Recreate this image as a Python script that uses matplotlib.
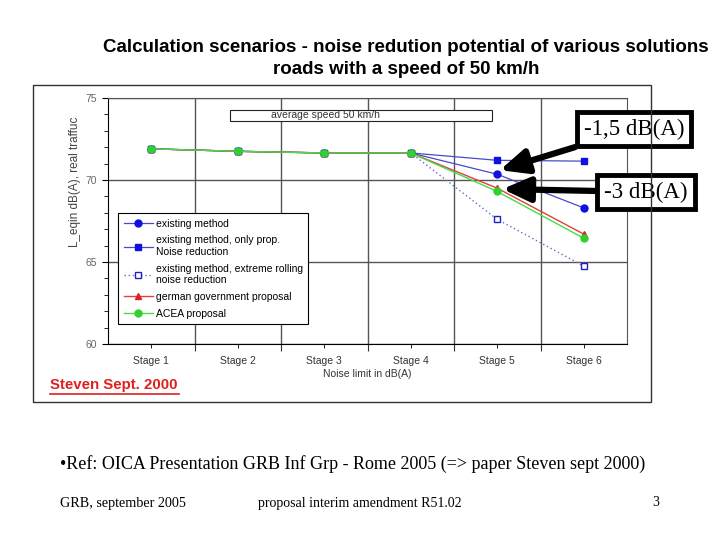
import matplotlib.pyplot as plt
from matplotlib.patches import Rectangle
from matplotlib.lines import Line2D

# data
stages = ['Stage 1', 'Stage 2', 'Stage 3', 'Stage 4', 'Stage 5', 'Stage 6']
existing = [71.9, 71.75, 71.65, 71.65, 70.35, 68.3]
only_prop = [71.9, 71.75, 71.65, 71.65, 71.2, 71.15]
extreme = [71.9, 71.75, 71.65, 71.65, 67.6, 64.75]
german = [71.9, 71.75, 71.65, 71.65, 69.5, 66.7]
acea = [71.9, 71.75, 71.65, 71.65, 69.3, 66.45]

labels = ['existing method',
          'existing method, only prop.\nNoise reduction',
          'existing method, extreme rolling\nnoise reduction',
          'german government proposal',
          'ACEA proposal']

plt.rcParams['font.family'] = ['Liberation Sans', 'DejaVu Sans']

fig = plt.figure(figsize=(7.2, 5.4), dpi=100)
W, H = 720, 540

def fx(px):
    return px / W

def fy(py):
    return 1 - py / H

# slide title
fig.text(fx(406), fy(47), 'Calculation scenarios - noise redution potential of various solutions',
         ha='center', va='center', fontsize=13.5, fontweight='bold')
fig.text(fx(406), fy(69), 'roads with a speed of 50 km/h',
         ha='center', va='center', fontsize=13.5, fontweight='bold')

# frame of the pasted chart
fig.add_artist(Rectangle((fx(33), fy(402)), fx(651) - fx(33), fy(85) - fy(402),
                         transform=fig.transFigure, fill=False, edgecolor='#333333', lw=1))

ax = fig.add_axes([fx(108), fy(344), fx(627) - fx(108), fy(98) - fy(344)])
x = list(range(len(stages)))

l_ext, = ax.plot(x, extreme, color='#6a6ac0', lw=1, ls=(0, (1, 2)), marker='s', ms=5,
                 mfc='white', mec='#2020c0', mew=1, zorder=3)
l_only, = ax.plot(x, only_prop, color='#4a4ac8', lw=0.9, marker='s', ms=5,
                  mfc='#1010e0', mec='#1010e0', zorder=4)
l_exist, = ax.plot(x, existing, color='#4a4ac8', lw=0.9, marker='o', ms=5,
                   mfc='#1010e0', mec='#1010e0', zorder=4)
l_ger, = ax.plot(x, german, color='#e04040', lw=1, marker='^', ms=5,
                 mfc='#e02020', mec='#e02020', zorder=5)
l_acea, = ax.plot(x, acea, color='#44dd44', lw=1, marker='o', ms=5,
                  mfc='#30d030', mec='#30d030', zorder=6)

ax.set_xlim(-0.5, 5.5)
ax.set_ylim(60, 75)
ax.set_xticks([i + 0.5 for i in range(5)])
ax.set_xticklabels([])
ax.set_xticks(x, minor=True)
ax.set_xticklabels(stages, minor=True)
ax.tick_params(axis='x', which='major', direction='out', length=5, color='#333333')
ax.tick_params(axis='x', which='minor', direction='out', length=3, labelsize=7.5,
               labelcolor='#333333', pad=6)
ax.set_yticks([60, 65, 70, 75])
ax.set_yticks(range(60, 76), minor=True)
ax.tick_params(axis='y', which='major', direction='out', length=4, labelsize=7.5,
               labelcolor='#666666', pad=4)
ax.tick_params(axis='y', which='minor', direction='out', length=3)
ax.grid(True, which='major', color='#555555', lw=1)
ax.set_axisbelow(True)
for s in ['top', 'right']:
    ax.spines[s].set_color('#555555')
ax.set_xlabel('Noise limit in dB(A)', fontsize=7.5, color='#333333', labelpad=2)
ax.set_ylabel('L_eqin dB(A), real traffuc', fontsize=8.5, color='#444444')
ax.yaxis.set_label_coords(-0.052, 0.66)

# "average speed" box
ax.add_patch(Rectangle((0.235, 0.907), 0.504, 0.045, transform=ax.transAxes,
                       facecolor='white', edgecolor='#222222', lw=0.8, zorder=7))
ax.text(0.315, 0.93, 'average speed 50 km/h', transform=ax.transAxes, fontsize=7.5,
        color='#333333', va='center', zorder=8)

leg = ax.legend([l_exist, l_only, l_ext, l_ger, l_acea], labels, loc='upper left',
                bbox_to_anchor=(0.01, 0.552), fontsize=7.5, frameon=True,
                fancybox=False, edgecolor='black', framealpha=1, handlelength=2.8,
                labelspacing=0.65, borderpad=0.5, handletextpad=0.3)
leg.get_frame().set_linewidth(0.8)
leg.set_zorder(10)

# callouts
box = dict(boxstyle='square,pad=0.3', facecolor='white', edgecolor='black', lw=3.5)
arrow = dict(arrowstyle='-|>,head_length=1.0,head_width=0.45', lw=4.5, color='black',
             shrinkA=0, shrinkB=0)
ax.annotate('-1,5 dB(A)', xy=(4.03, 70.6), xytext=(634, H - 129),
            textcoords='figure pixels', fontsize=16.5, family='Liberation Serif',
            ha='center', va='center', bbox=box, arrowprops=arrow, zorder=12,
            annotation_clip=False)
ax.annotate('-3 dB(A)', xy=(4.06, 69.45), xytext=(646, H - 192),
            textcoords='figure pixels', fontsize=16.5, family='Liberation Serif',
            ha='center', va='center', bbox=box, arrowprops=arrow, zorder=12,
            annotation_clip=False)

# red source tag
fig.text(fx(50), fy(385), 'Steven Sept. 2000', color='#e02020', fontsize=10.8,
         fontweight='bold', va='center', ha='left')
fig.add_artist(Line2D([fx(50), fx(179)], [fy(394), fy(394)], color='#e02020', lw=1.2,
                      transform=fig.transFigure))

# slide footer text
fig.text(fx(60), fy(464), '\u2022Ref: OICA Presentation GRB Inf Grp - Rome 2005 (=> paper Steven sept 2000)',
         fontsize=13, family='Liberation Serif', va='center', ha='left')
fig.text(fx(60), fy(503), 'GRB, september 2005', fontsize=10.2, family='Liberation Serif',
         va='center', ha='left')
fig.text(fx(258), fy(503), 'proposal interim amendment R51.02', fontsize=10,
         family='Liberation Serif', va='center', ha='left')
fig.text(fx(652), fy(503), '3', fontsize=10, family='Liberation Serif', va='center', ha='left')

fig.savefig('out.png', dpi=100)
